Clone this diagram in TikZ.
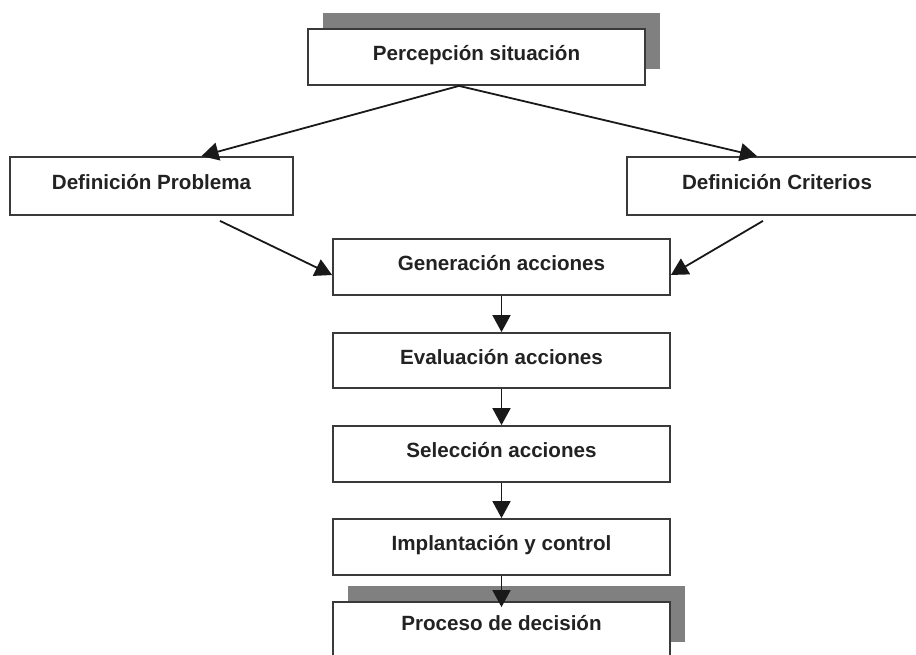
\documentclass[tikz,border=0pt]{standalone}
\usepackage{fontspec}
\setmainfont{Liberation Sans}
\usetikzlibrary{arrows.meta,shadows}
\definecolor{boxline}{HTML}{3A3A3A}
\definecolor{txt}{HTML}{222222}
\definecolor{shadowgray}{HTML}{808080}
\begin{document}
\begin{tikzpicture}[x=1pt,y=-1pt,
  box/.style={draw=boxline, line width=1.8pt, fill=white, rectangle, inner sep=0pt,
    minimum width=337pt, minimum height=56pt, text=txt,
    font=\bfseries\fontsize{20.6}{24}\selectfont, text height=15pt, text depth=8pt},
  shadowed/.style={drop shadow={shadow xshift=15pt, shadow yshift=16pt, fill=shadowgray, opacity=1}},
  arr/.style={draw=black!90, line width=1.8pt, -{Triangle[length=17pt,width=18pt]}}
]
\useasboundingbox (0,0) rectangle (916,655);
\clip (0,0) rectangle (916,655);
\fill[white] (0,0) rectangle (916,655);

\node[box, shadowed] (top) at (476.5,57) {Percepción situación};
\node[box, minimum width=283pt, minimum height=58pt] (defp) at (151.5,186) {Definición Problema};
\node[box, minimum width=300pt, minimum height=58pt] (defc) at (777,186) {Definición Criterios};
\node[box] (gen) at (501.5,267) {Generación acciones};
\node[box, minimum height=55pt] (eva) at (501.5,360.5) {Evaluación acciones};
\node[box] (sel) at (501.5,454) {Selección acciones};
\node[box] (imp) at (501.5,547) {Implantación y control};
\node[box, shadowed, text depth=14pt] (pro) at (501.5,630) {Proceso de decisión};

\draw[arr] ([xshift=-17.5pt]top.south) -- ([xshift=50pt]defp.north);
\draw[arr] ([xshift=-17.5pt]top.south) -- ([xshift=-20pt]defc.north);
\draw[arr] ([xshift=68.5pt,yshift=-5pt]defp.south) -- ([yshift=-8pt]gen.west);
\draw[arr] ([xshift=-14pt,yshift=-5pt]defc.south) -- ([yshift=-8pt]gen.east);
\draw[arr] (gen.south) -- (eva.north);
\draw[arr] (eva.south) -- (sel.north);
\draw[arr] (sel.south) -- (imp.north);
\draw[arr] (imp.south) -- ([yshift=-6pt]pro.north);
\end{tikzpicture}
\end{document}
